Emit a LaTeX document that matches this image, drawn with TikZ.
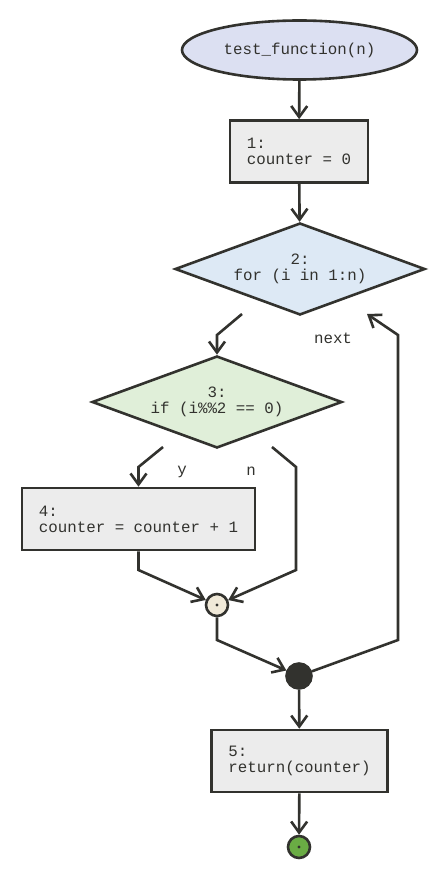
\documentclass[tikz,border=0pt]{standalone}
\usepackage{fontspec}
\setmonofont{Liberation Mono}
\usepackage{tikz}
\usetikzlibrary{calc,shapes.geometric,arrows.meta}

\definecolor{ink}{RGB}{50,50,46}
\definecolor{boxfill}{RGB}{236,236,236}
\definecolor{startfill}{RGB}{220,224,242}
\definecolor{loopfill}{RGB}{221,233,245}
\definecolor{iffill}{RGB}{224,239,217}
\definecolor{joinfill}{RGB}{240,233,216}
\definecolor{stopfill}{RGB}{106,172,68}

\tikzset{
    code/.style={font=\ttfamily\fontsize{15.8}{16}\selectfont, text=ink},
    stmt/.style={code, draw=ink, fill=boxfill, line width=2.6pt, rectangle, align=left, inner xsep=17pt, minimum height=62pt},
    cond/.style={code, draw=ink, line width=2.6pt, diamond, aspect=2.72, align=center, inner sep=0pt},
    dot/.style={circle, draw=ink, line width=2.6pt, inner sep=0pt, minimum size=22pt},
    arr/.style={draw=ink, line width=2.6pt, -{Straight Barb[length=11pt,width=16pt,line width=2.6pt]}},
    lnk/.style={draw=ink, line width=2.6pt}
}

\begin{document}
\begin{tikzpicture}[x=1pt,y=-1pt]

    \useasboundingbox (0,0) rectangle (444,882);

    \node[code, ellipse, draw=ink, fill=startfill, line width=2.6pt, minimum width=235pt, minimum height=59pt, inner sep=0pt] (start) at (299.5,50) {test\_function(n)};
    \node[stmt] (one) at (299,151.5) {1:\\counter = 0};
    \node[cond, fill=loopfill, minimum width=250pt, minimum height=92pt] (two) at (300,269) {2:\\for (i in 1:n)};
    \node[cond, fill=iffill, minimum width=250pt, minimum height=92pt] (three) at (217,402) {3:\\if (i\%\%2 == 0)};
    \node[stmt] (four) at (138.5,519) {4:\\counter = counter + 1};
    \node[dot, fill=joinfill] (join) at (217,605) {};
    \node[dot, fill=ink, minimum size=25pt] (merge) at (299,676) {};
    \node[stmt] (five) at (299.5,761) {5:\\return(counter)};
    \node[dot, fill=stopfill] (stop) at (299,847) {};
    \fill[ink] (join.center) circle (1.7pt);
    \fill[ink] (stop.center) circle (1.7pt);

    \node[code] (next) at (333,338) {next};
    \node[code] (yes) at (182,472) {y};
    \node[code] (no) at (251,471) {n};

    \coordinate (twoout) at (242,314);
    \coordinate (twobend) at (217,335);
    \coordinate (twoin) at (367,314);
    \coordinate (loopup) at (398,335);
    \coordinate (loopdown) at (398,640);
    \coordinate (yout) at (163,447);
    \coordinate (ybend) at (138.5,467);
    \coordinate (nout) at (272,447);
    \coordinate (nbend) at (296,467);
    \coordinate (nlow) at (296,570);
    \coordinate (fourlow) at (138.5,570);
    \coordinate (joinlow) at (217,640);

    \draw[arr] (start) -- (one);
    \draw[arr] (one) -- (two);
    \draw[arr] (twoout) -- (twobend) -- (three.north);
    \draw[arr] (yout) -- (ybend) -- (four.north);
    \draw[arr] (nout) -- (nbend) -- (nlow) -- (join);
    \draw[arr] (four.south) -- (fourlow) -- (join);
    \draw[arr] (join) -- (joinlow) -- (merge);
    \draw[arr] (merge) -- (loopdown) -- (loopup) -- (twoin);
    \draw[arr] (merge) -- (five);
    \draw[arr] (five) -- (stop);

\end{tikzpicture}
\end{document}
